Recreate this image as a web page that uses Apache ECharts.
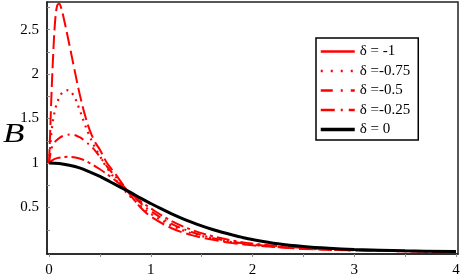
<!DOCTYPE html>
<html><head><meta charset="utf-8">
<script src="https://cdn.jsdelivr.net/npm/echarts@6/dist/echarts.min.js"></script>
<style>html,body{margin:0;padding:0;background:#fff}#c{width:463px;height:278px}</style>
</head><body><div id="c"></div>
<script>
// series names
const names = ['δ = -1', 'δ =-0.75', 'δ =-0.5', 'δ =-0.25', 'δ = 0'];
// δ = -1
const x1 = [0,0.01,0.02,0.04,0.06,0.08,0.1,0.12,0.15,0.2,0.25,0.3,0.35,0.4,0.45,0.5,0.57,0.65,0.7,0.8,0.9,1.0,1.2,1.4,1.6,1.8,2.0,2.5,3.0,3.5,4.0];
const y1 = [1,1.3,1.65,2.2,2.6,2.77,2.79,2.74,2.6,2.33,2.05,1.78,1.55,1.37,1.24,1.15,1.0,0.88,0.8,0.64,0.5,0.4,0.27,0.19,0.14,0.1,0.075,0.035,0.018,0.009,0.004];
// δ = -0.75
const x2 = [0,0.01,0.03,0.06,0.09,0.13,0.19,0.25,0.3,0.35,0.4,0.45,0.5,0.55,0.63,0.7,0.8,0.9,1.0,1.2,1.4,1.6,1.8,2.0,2.5,3.0,3.5,4.0];
const y2 = [1,1.15,1.41,1.6,1.71,1.79,1.82,1.74,1.6,1.44,1.3,1.18,1.08,0.98,0.85,0.75,0.62,0.52,0.43,0.3,0.21,0.155,0.11,0.08,0.038,0.019,0.009,0.004];
// δ = -0.5
const x3 = [0,0.01,0.03,0.06,0.1,0.15,0.22,0.3,0.36,0.43,0.5,0.57,0.65,0.7,0.8,0.9,1.0,1.2,1.4,1.6,1.8,2.0,2.5,3.0,3.5,4.0];
const y3 = [1,1.08,1.18,1.24,1.28,1.31,1.32,1.29,1.24,1.17,1.07,0.96,0.85,0.78,0.66,0.55,0.46,0.32,0.225,0.16,0.115,0.085,0.04,0.02,0.01,0.004];
// δ = -0.25
const x4 = [0,0.03,0.08,0.18,0.3,0.4,0.5,0.6,0.7,0.8,0.9,1.0,1.2,1.4,1.6,1.8,2.0,2.5,3.0,3.5,4.0];
const y4 = [1,1.03,1.055,1.07,1.05,1.0,0.93,0.85,0.76,0.66,0.57,0.49,0.35,0.25,0.18,0.13,0.095,0.045,0.022,0.011,0.005];
// δ = 0
const x5 = [0,0.1,0.2,0.3,0.4,0.5,0.6,0.7,0.8,0.9,1.0,1.1,1.2,1.3,1.4,1.5,1.6,1.7,1.8,1.9,2.0,2.25,2.5,2.75,3.0,3.5,4.0];
const y5 = [1,0.995,0.975,0.945,0.9,0.85,0.79,0.73,0.67,0.605,0.545,0.487,0.432,0.382,0.336,0.294,0.256,0.222,0.192,0.164,0.14,0.093,0.062,0.042,0.029,0.013,0.005];
// ticks
const xTickLabels = [0,1,2,3,4];
const xTicks = [0,0.5,1,1.5,2,2.5,3,3.5,4];
const yTickLabels = [0.5,1,1.5,2,2.5];
const yTicks = [0.25,0.5,0.75,1,1.25,1.5,1.75,2,2.25,2.5,2.75];
const yName = 'B';

const zip = (xs, ys) => xs.map((x, i) => [x, ys[i]]);
const FONT = 'Liberation Serif';
const red = '#ff0000';
const styles = [
  {color: red, width: 2, type: [14, 5]},
  {color: red, width: 2.2, type: [2, 5]},
  {color: red, width: 2, type: [10, 5, 2, 5]},
  {color: red, width: 2, type: [13, 4, 3, 4]},
  {color: '#000', width: 3, type: 'solid'}
];
const legendTypes = ['solid', [2, 8], [12, 8, 2, 8], [14, 6, 2, 6], 'solid'];
const xs = [x1, x2, x3, x4, x5], ys = [y1, y2, y3, y4, y5];

const chart = echarts.init(document.getElementById('c'), null, {renderer: 'canvas'});
chart.setOption({
  animation: false,
  backgroundColor: '#fff',
  grid: {left: 47, right: 5, top: 2, bottom: 24, show: true, borderColor: '#222', borderWidth: 1.5},
  graphic: [{
    type: 'text', left: 3, top: 121, scaleX: 1.3,
    style: {text: yName, fontFamily: FONT, fontStyle: 'italic', fontSize: 27, fill: '#000'}
  }],
  xAxis: {
    type: 'value', min: -0.02, max: 4.02,
    axisLine: {show: true, onZero: false, lineStyle: {color: '#222', width: 1.5}},
    splitLine: {show: false},
    axisTick: {show: true, customValues: xTicks, length: 3, lineStyle: {color: '#888'}},
    axisLabel: {customValues: xTickLabels, margin: 9, color: '#000', fontFamily: FONT, fontSize: 15}
  },
  yAxis: {
    type: 'value', min: -0.0225, max: 2.81,
    axisLine: {show: true, onZero: false, lineStyle: {color: '#222', width: 1.5}},
    splitLine: {show: false},
    axisTick: {show: true, inside: true, customValues: yTicks, length: 3, lineStyle: {color: '#888'}},
    axisLabel: {customValues: yTickLabels, margin: 8, color: '#000', fontFamily: FONT, fontSize: 15}
  },
  legend: {
    orient: 'vertical', left: 316, top: 38,
    backgroundColor: '#fff', borderColor: '#000', borderWidth: 1.5,
    padding: [6, 8, 3, 3], itemGap: 4.5, itemWidth: 34, itemHeight: 14,
    textStyle: {fontFamily: FONT, fontSize: 15, color: '#000'},
    itemStyle: {opacity: 0},
    data: names.map((n, i) => ({name: n, itemStyle: {opacity: 0}, lineStyle: {type: legendTypes[i], width: styles[i].width + 0.5}}))
  },
  series: names.map((n, i) => ({
    name: n, type: 'line', data: zip(xs[i], ys[i]),
    symbol: 'none', smooth: 0.35,
    z: i === 4 ? 3 : 2,
    lineStyle: styles[i], itemStyle: {color: styles[i].color}
  }))
});
</script></body></html>
